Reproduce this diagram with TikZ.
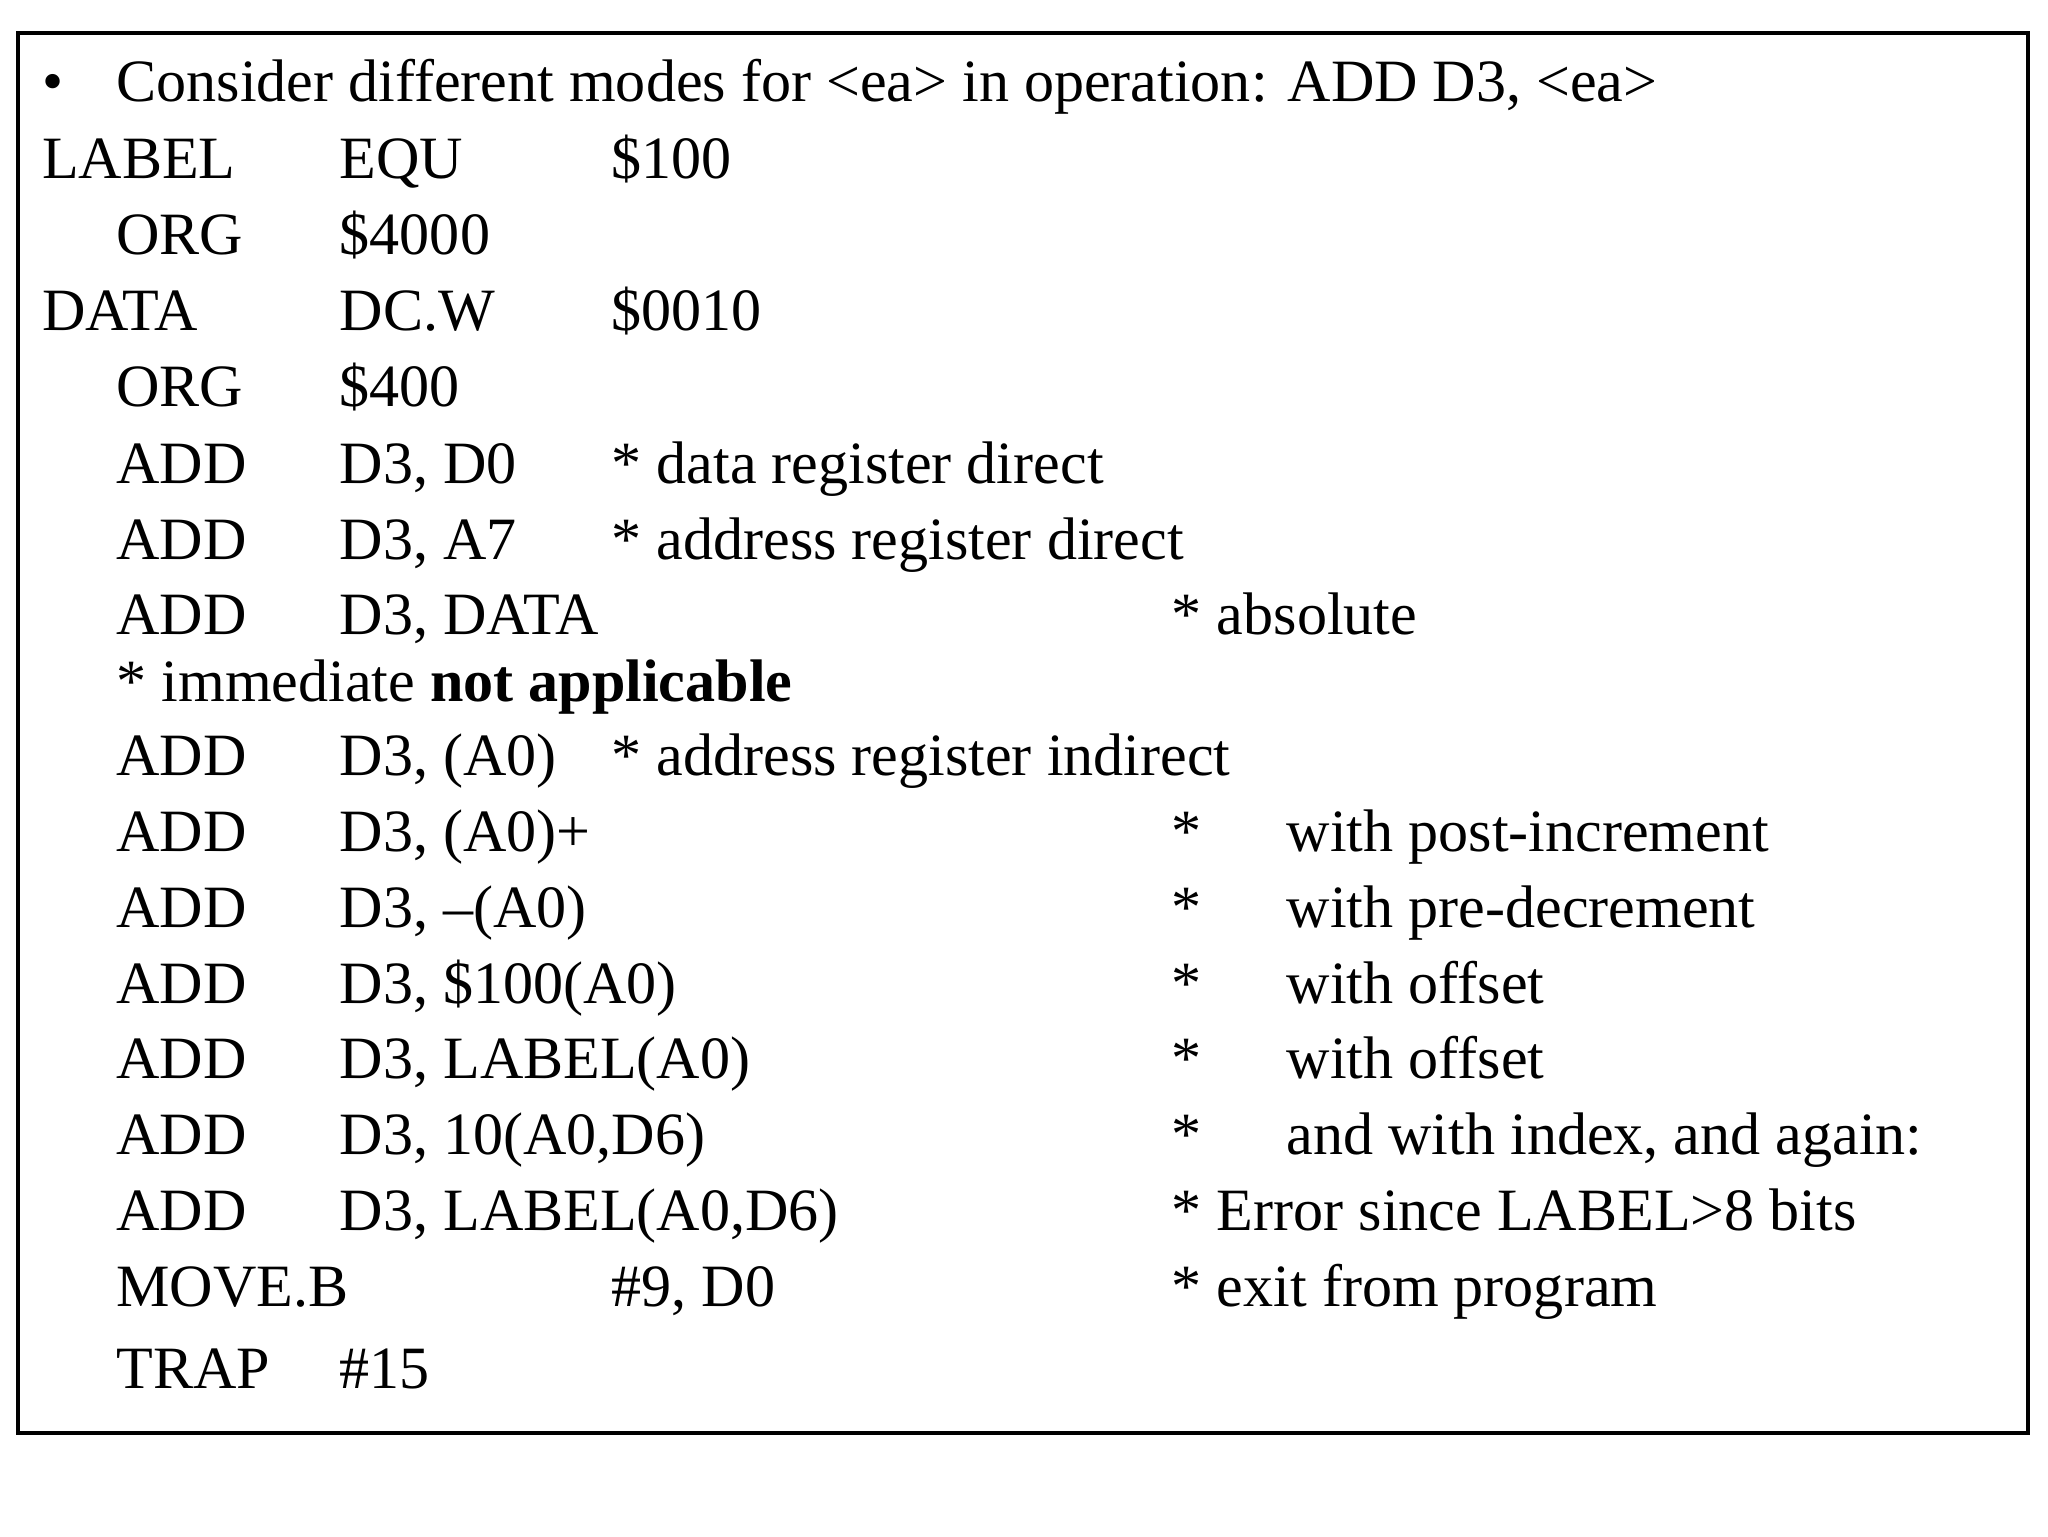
\documentclass[tikz,border=0pt]{standalone}
\usepackage{fontspec}
\setmainfont{Liberation Serif}
\begin{document}
\begin{tikzpicture}[x=1pt,y=-1pt,t/.style={anchor=base west,inner sep=0pt,font=\fontsize{46}{50}\selectfont}]
\useasboundingbox (0,0) rectangle (1568,1176);
\fill[white] (0,0) rectangle (1568,1176);
\draw[line width=3pt] (14,25) rectangle (1553,1097);
\node[t] (b) at (32,78) {•};
\node[t] (h) at (89,78) {Consider different modes for <ea> in operation: ADD D3, <ea>};
\node[t] (l1) at (32,137) {LABEL}; \node[t] (l1b) at (260,137) {EQU}; \node[t] (l1c) at (468,137) {\$100};
\node[t] (l2) at (89,195) {ORG}; \node[t] (l2b) at (260,195) {\$4000};
\node[t] (l3) at (32,253) {DATA}; \node[t] (l3b) at (260,253) {DC.W}; \node[t] (l3c) at (468,253) {\$0010};
\node[t] (l4) at (89,311) {ORG}; \node[t] (l4b) at (260,311) {\$400};
\node[t] (l5) at (89,370) {ADD}; \node[t] (l5b) at (260,370) {D3, D0}; \node[t] (l5c) at (468,370) {* data register direct};
\node[t] (l6) at (89,428) {ADD}; \node[t] (l6b) at (260,428) {D3, A7}; \node[t] (l6c) at (468,428) {* address register direct};
\node[t] (l7) at (89,486) {ADD}; \node[t] (l7b) at (260,486) {D3, DATA}; \node[t] (l7c) at (897,486) {* absolute};
\node[t] (l8) at (89,537) {* immediate \textbf{not applicable}};
\node[t] (l9) at (89,594) {ADD}; \node[t] (l9b) at (260,594) {D3, (A0)}; \node[t] (l9c) at (468,594) {* address register indirect};
\node[t] (l10) at (89,652) {ADD}; \node[t] (l10b) at (260,652) {D3, (A0)+}; \node[t] (l10s) at (897,652) {*}; \node[t] (l10c) at (985,652) {with post-increment};
\node[t] (l11) at (89,710) {ADD}; \node[t] (l11b) at (260,710) {D3, –(A0)}; \node[t] (l11s) at (897,710) {*}; \node[t] (l11c) at (985,710) {with pre-decrement};
\node[t] (l12) at (89,768) {ADD}; \node[t] (l12b) at (260,768) {D3, \$100(A0)}; \node[t] (l12s) at (897,768) {*}; \node[t] (l12c) at (985,768) {with offset};
\node[t] (l13) at (89,826) {ADD}; \node[t] (l13b) at (260,826) {D3, LABEL(A0)}; \node[t] (l13s) at (897,826) {*}; \node[t] (l13c) at (985,826) {with offset};
\node[t] (l14) at (89,884) {ADD}; \node[t] (l14b) at (260,884) {D3, 10(A0,D6)}; \node[t] (l14s) at (897,884) {*}; \node[t] (l14c) at (985,884) {and with index, and again:};
\node[t] (l15) at (89,942) {ADD}; \node[t] (l15b) at (260,942) {D3, LABEL(A0,D6)}; \node[t] (l15c) at (897,942) {* Error since LABEL>8 bits};
\node[t] (l16) at (89,1000) {MOVE.B}; \node[t] (l16b) at (468,1000) {\#9, D0}; \node[t] (l16c) at (897,1000) {* exit from program};
\node[t] (l17) at (89,1063) {TRAP}; \node[t] (l17b) at (260,1063) {\#15};
\end{tikzpicture}
\end{document}
